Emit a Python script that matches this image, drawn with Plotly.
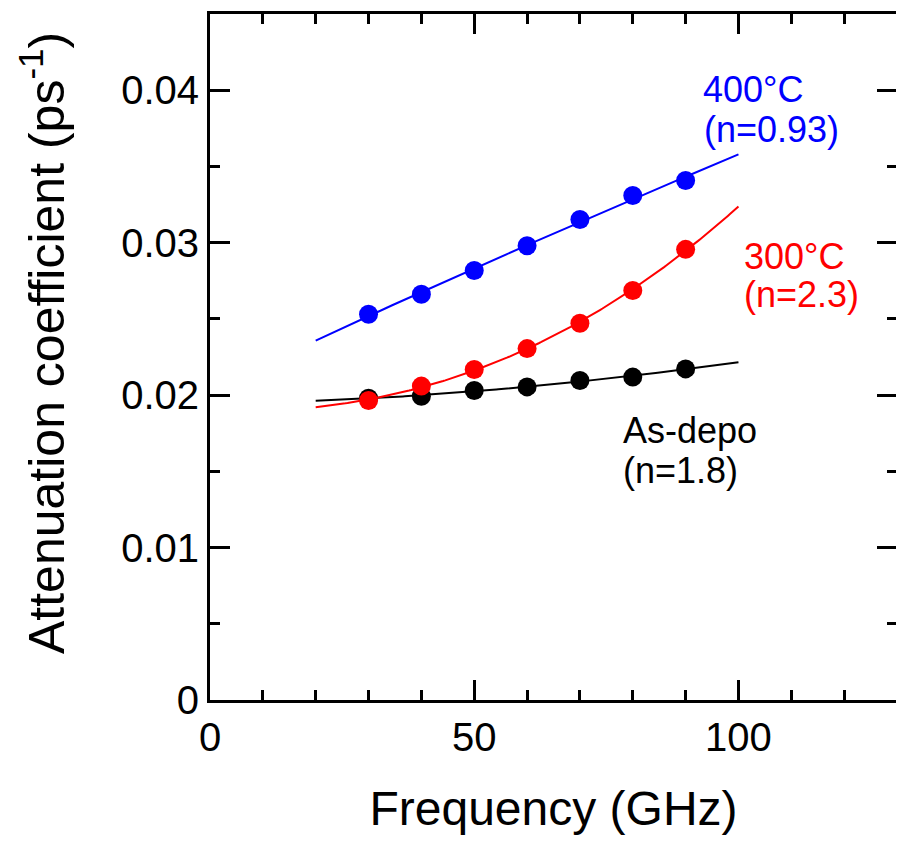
import numpy as np
import plotly.graph_objects as go

# ---- data ----
freq = [30, 40, 50, 60, 70, 80, 90]  # GHz
asdepo = [0.0198, 0.01993, 0.0203, 0.02054, 0.02096, 0.02118, 0.02172]
t300 = [0.01965, 0.02059, 0.02168, 0.02305, 0.02472, 0.02686, 0.02956]
t400 = [0.02531, 0.02662, 0.02818, 0.02980, 0.03152, 0.03310, 0.03408]
n_asdepo, n_300, n_400 = 1.8, 2.3, 0.93
fit_range = [20, 100]

labels_top = ["As-depo", "300°C", "400°C"]
labels_bot = ["(n=1.8)", "(n=2.3)", "(n=0.93)"]
colors = ["#000000", "#ff0000", "#0000ff"]

FONT = "Liberation Sans, Arial, sans-serif"


def fit_curve(f, a, n):
    f = np.asarray(f, float)
    a = np.asarray(a, float)
    X = np.vstack([np.ones_like(f), f ** n]).T
    coef, *_ = np.linalg.lstsq(X, a, rcond=None)
    ff = np.linspace(fit_range[0], fit_range[1], 200)
    return ff, coef[0] + coef[1] * ff ** n


fig = go.Figure()
series = [(asdepo, n_asdepo), (t300, n_300), (t400, n_400)]
for (vals, n), col in zip(series, colors):
    ff, yy = fit_curve(freq, vals, n)
    fig.add_trace(go.Scatter(x=ff, y=yy, mode="lines",
                             line=dict(color=col, width=2), showlegend=False,
                             hoverinfo="skip"))
    fig.add_trace(go.Scatter(x=freq, y=vals, mode="markers",
                             marker=dict(color=col, size=19, line=dict(width=0)),
                             showlegend=False))

# label positions (data coords)
lab_pos = [((77.8, 0.01768), (77.8, 0.01507)),
           ((100.7, 0.02908), (100.7, 0.02657)),
           ((92.9, 0.04003), (93.1, 0.03745))]
for (p1, p2), t1, t2, col in zip(lab_pos, labels_top, labels_bot, colors):
    for (x, y), t in ((p1, t1), (p2, t2)):
        fig.add_annotation(x=x, y=y, text=t, showarrow=False, xanchor="left",
                           yanchor="middle", font=dict(family=FONT, size=36, color=col))

# y-axis title as rotated annotation for exact placement
fig.add_annotation(xref="paper", yref="paper", x=-0.242, y=0.52,
                   text="Attenuation coefficient (ps<sup>-1</sup>)", textangle=-90,
                   showarrow=False, xanchor="center", yanchor="middle",
                   font=dict(family=FONT, size=50, color="black"))

axis_common = dict(showline=True, linecolor="black", linewidth=3, mirror="ticks",
                   ticks="inside", ticklen=20, tickwidth=3, tickcolor="black",
                   showgrid=False, zeroline=False,
                   tickfont=dict(family=FONT, size=40, color="black"))

fig.update_xaxes(range=[0, 130], tickvals=[0, 50, 100], ticktext=["0", "50", "100"],
                 minor=dict(ticks="inside", dtick=10, ticklen=10, tickwidth=3, tickcolor="black"),
                 title=dict(text="Frequency (GHz)", font=dict(family=FONT, size=48, color="black"),
                            standoff=34),
                 **axis_common)
fig.update_yaxes(range=[0, 0.045], tickvals=[0, 0.01, 0.02, 0.03, 0.04],
                 ticktext=["0", "0.01", "0.02", "0.03", "0.04"],
                 minor=dict(ticks="inside", dtick=0.005, ticklen=10, tickwidth=3, tickcolor="black"),
                 **axis_common)

# page body adds an 8px offset; compensate in size and margins
fig.update_layout(width=896, height=840, margin=dict(l=201.5, r=7, t=3, b=147.5),
                  plot_bgcolor="white", paper_bgcolor="white")

fig.write_html("out.html")
